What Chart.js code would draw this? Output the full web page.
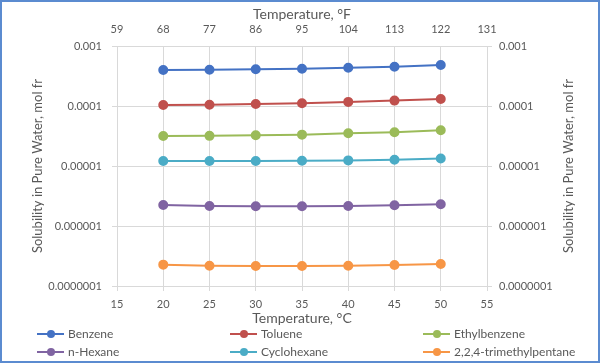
<!DOCTYPE html>
<html>
<head>
<meta charset="utf-8">
<script src="https://cdn.jsdelivr.net/npm/chart.js@4.4.0/dist/chart.umd.min.js"></script>
<style>
  html, body { margin: 0; padding: 0; background: #fff; }
  #wrap { position: relative; width: 600px; height: 363px; overflow: hidden; }
  #frame { position: absolute; left: 0; top: 0; width: 596px; height: 359px; border: 2px solid #5B8BD0; pointer-events: none; }
  #legend { position: absolute; left: 0; top: 326px; width: 600px; font-family: Lato, sans-serif; font-size: 12px; color: #595959; }
  .item { position: absolute; height: 16px; line-height: 16px; white-space: nowrap; }
  .sw { display: inline-block; position: relative; width: 27px; height: 16px; vertical-align: top; margin-right: 4px; }
  .sw i { position: absolute; left: 0; top: 7px; width: 27px; height: 2px; }
  .sw b { position: absolute; left: 10px; top: 4px; width: 8px; height: 8px; border-radius: 50%; }
</style>
</head>
<body>
<div id="wrap">
  <canvas id="chart" width="600" height="363"></canvas>
  <div id="legend"></div>
  <div id="frame"></div>
</div>
<script>
'use strict';

var tempsC = [20, 25, 30, 35, 40, 45, 50];

var benzene      = [3.98e-4, 4.03e-4, 4.09e-4, 4.19e-4, 4.35e-4, 4.52e-4, 4.82e-4];
var toluene      = [1.04e-4, 1.05e-4, 1.08e-4, 1.11e-4, 1.17e-4, 1.23e-4, 1.31e-4];
var ethylbenzene = [3.16e-5, 3.18e-5, 3.25e-5, 3.33e-5, 3.51e-5, 3.65e-5, 3.94e-5];
var nHexane      = [2.24e-6, 2.16e-6, 2.13e-6, 2.13e-6, 2.15e-6, 2.21e-6, 2.30e-6];
var cyclohexane  = [1.21e-5, 1.21e-5, 1.21e-5, 1.22e-5, 1.24e-5, 1.27e-5, 1.33e-5];
var isooctane    = [2.27e-7, 2.18e-7, 2.15e-7, 2.15e-7, 2.18e-7, 2.24e-7, 2.33e-7];

var seriesNames  = ['Benzene', 'Toluene', 'Ethylbenzene', 'n-Hexane', 'Cyclohexane', '2,2,4-trimethylpentane'];
var seriesValues = [benzene, toluene, ethylbenzene, nHexane, cyclohexane, isooctane];
var seriesColors = ['#4472C4', '#C0504D', '#9BBB59', '#8064A2', '#4BACC6', '#F79646'];

var yTickValues = [1e-7, 1e-6, 1e-5, 1e-4, 1e-3];
var yTickLabels = ['0.0000001', '0.000001', '0.00001', '0.0001', '0.001'];

var xMin = 15, xMax = 55, xStep = 5;
var fMin = 59, fMax = 131, fStep = 9;

var xTitle  = 'Temperature, °C';
var x2Title = 'Temperature, °F';
var yTitle  = 'Solubility in Pure Water, mol fr';

var textColor = '#595959';
var gridColor = '#D9D9D9';
var fontFamily = 'Lato, sans-serif';

Chart.defaults.font.family = fontFamily;
Chart.defaults.color = textColor;

function decadeTicks(scale) {
    scale.ticks = yTickValues.map(function (v) { return { value: v }; });
}
function decadeLabel(v) {
    var i = yTickValues.indexOf(v);
    return i >= 0 ? yTickLabels[i] : '';
}
function fixWidth(w) { return function (s) { s.width = w; }; }
function fixHeight(h) { return function (s) { s.height = h; }; }

// axis titles drawn by hand so the right one reads upward like the left one
var axisTitles = {
    id: 'axisTitles',
    afterDraw: function (chart) {
        var ctx = chart.ctx, a = chart.chartArea;
        var midY = (a.top + a.bottom) / 2, midX = (a.left + a.right) / 2;
        ctx.save();
        ctx.fillStyle = textColor;
        ctx.textAlign = 'center';
        ctx.textBaseline = 'middle';
        ctx.font = '14px ' + fontFamily;
        ctx.fillText(x2Title, midX, 14);
        ctx.fillText(xTitle, midX, 318);
        ctx.font = '13px ' + fontFamily;
        [38, 569].forEach(function (x) {
            ctx.save();
            ctx.translate(x, midY);
            ctx.rotate(-Math.PI / 2);
            ctx.fillText(yTitle, 0, 0);
            ctx.restore();
        });
        ctx.restore();
    }
};

var datasets = seriesNames.map(function (name, s) {
    return {
        label: name,
        data: tempsC.map(function (t, i) { return { x: t, y: seriesValues[s][i] }; }),
        borderColor: seriesColors[s],
        backgroundColor: seriesColors[s],
        borderWidth: 2,
        pointRadius: 4,
        pointHoverRadius: 4,
        tension: 0,
        xAxisID: 'x',
        yAxisID: 'y'
    };
});

new Chart(document.getElementById('chart'), {
    type: 'line',
    data: { datasets: datasets },
    options: {
        responsive: false,
        animation: false,
        layout: { padding: { left: 0, right: 0, top: 0, bottom: 38 } },
        plugins: { legend: { display: false }, tooltip: { enabled: false } },
        scales: {
            x: {
                type: 'linear', position: 'bottom', min: xMin, max: xMax,
                afterFit: fixHeight(39),
                ticks: { stepSize: xStep, font: { size: 11 }, padding: 7 },
                grid: { color: gridColor, tickLength: 5 },
                border: { color: gridColor }
            },
            x2: {
                type: 'linear', position: 'top', min: fMin, max: fMax, display: true,
                afterFit: fixHeight(46),
                ticks: { stepSize: fStep, font: { size: 11 }, padding: 10 },
                grid: { display: false, drawOnChartArea: false, drawTicks: false },
                border: { display: false }
            },
            y: {
                type: 'logarithmic', position: 'left', min: 1e-7, max: 1e-3,
                afterFit: fixWidth(117),
                afterBuildTicks: decadeTicks,
                ticks: { callback: decadeLabel, font: { size: 11 }, padding: 10 },
                grid: { color: gridColor, tickLength: 5 },
                border: { color: gridColor }
            },
            y2: {
                type: 'logarithmic', position: 'right', min: 1e-7, max: 1e-3, display: true,
                afterFit: fixWidth(113),
                afterBuildTicks: decadeTicks,
                ticks: { callback: decadeLabel, font: { size: 11 }, padding: 7 },
                grid: { color: gridColor, tickLength: 5, drawOnChartArea: false },
                border: { color: gridColor }
            }
        }
    },
    plugins: [axisTitles]
});

// legend laid out in three columns like the original
var legendPos = [[37, 0], [230, 0], [423, 0], [37, 18], [230, 18], [423, 18]];
var legendEl = document.getElementById('legend');
seriesNames.forEach(function (name, s) {
    var it = document.createElement('div');
    it.className = 'item';
    it.style.left = legendPos[s][0] + 'px';
    it.style.top = legendPos[s][1] + 'px';
    it.innerHTML = '<span class="sw"><i style="background:' + seriesColors[s] + '"></i><b style="background:' + seriesColors[s] + '"></b></span>';
    it.appendChild(document.createTextNode(name));
    legendEl.appendChild(it);
});
</script>
</body>
</html>
